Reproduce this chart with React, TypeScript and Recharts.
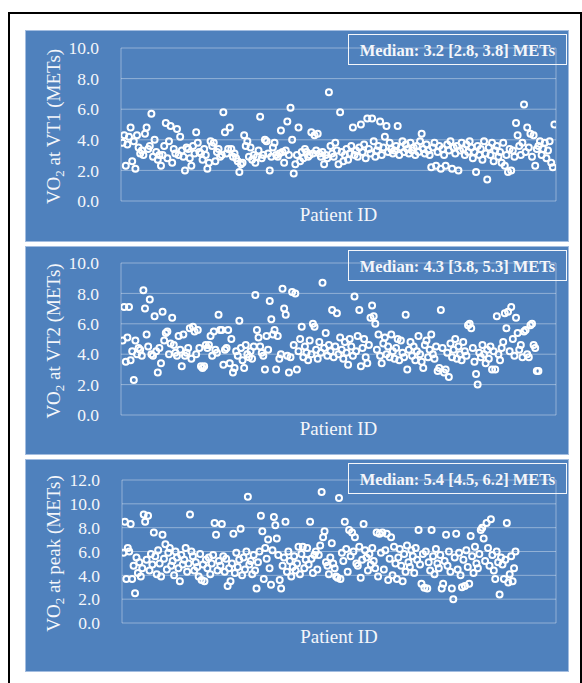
import React from "react";
import { ScatterChart, Scatter, XAxis, YAxis, CartesianGrid } from "recharts";

// VO2 per patient (METs) in patient order
const vt1Values = [
  3.8, 4.3, 2.3, 3.7, 4.2, 4.8, 2.6, 3.9, 2.1, 4.3,
  3.5, 3.1, 3.3, 3.0, 4.4, 4.8, 3.4, 3.6, 5.7, 2.9,
  4.0, 3.2, 2.7, 3.0, 2.3, 3.0, 3.6, 5.1, 2.8, 3.9,
  4.9, 2.5, 3.4, 3.1, 4.7, 3.0, 4.2, 3.3, 2.9, 2.0,
  3.5, 3.4, 2.8, 2.3, 3.6, 3.1, 4.5, 3.8, 3.2, 3.1,
  2.7, 3.4, 3.0, 2.1, 2.5, 3.9, 3.6, 3.8, 2.6, 3.2,
  3.4, 2.9, 3.0, 5.8, 4.5, 3.1, 3.4, 4.8, 3.4, 2.9,
  3.1, 2.8, 2.6, 1.9, 2.4, 2.5, 4.3, 3.6, 3.9, 2.9,
  3.5, 2.7, 3.0, 2.5, 2.9, 3.3, 5.5, 2.8, 3.0, 4.0,
  3.9, 3.1, 2.0, 2.9, 3.5, 3.8, 3.0, 2.9, 3.1, 4.6,
  3.2, 2.5, 3.3, 5.2, 3.0, 6.1, 4.0, 1.8, 2.4, 3.0,
  4.8, 2.6, 3.2, 2.8, 3.4, 3.2, 2.9, 3.0, 4.5, 3.1,
  4.3, 3.3, 4.4, 3.1, 2.9, 3.2, 2.4, 3.0, 2.8, 7.1,
  3.6, 3.1, 2.9, 3.8, 3.3, 2.4, 5.8, 3.2, 2.6, 3.0,
  3.4, 2.7, 3.1, 3.6, 4.8, 3.0, 3.3, 2.9, 3.5, 5.0,
  3.2, 3.7, 2.8, 5.4, 3.4, 3.1, 5.4, 3.9, 2.9, 3.3,
  3.6, 5.2, 3.0, 3.5, 4.2, 4.9, 3.2, 3.8, 3.4, 3.1,
  3.3, 3.6, 4.9, 3.0, 3.5, 3.9, 3.2, 3.7, 3.4, 3.1,
  3.8, 3.3, 3.5, 3.0, 3.6, 3.2, 3.9, 4.4, 3.4, 3.1,
  3.7, 3.3, 3.0, 2.2, 3.5, 3.8, 2.3, 3.2, 3.6, 2.1,
  3.4, 3.0, 2.3, 3.7, 3.3, 3.9, 2.1, 3.5, 3.1, 3.6,
  2.0, 3.3, 3.8, 3.4, 3.0, 3.7, 3.2, 3.9, 3.5, 2.8,
  3.2, 1.9, 3.6, 3.0, 3.4, 2.7, 3.9, 3.1, 1.4, 3.5,
  3.0, 3.8, 2.6, 3.3, 3.6, 2.9, 3.2, 2.5, 3.8, 2.3,
  3.0, 1.9, 3.4, 2.0, 3.3, 2.9, 5.1, 4.3, 3.6, 3.0,
  3.8, 6.3, 3.2, 4.8, 3.5, 4.4, 2.9, 4.3, 2.3, 3.4,
  3.6, 3.9, 3.0, 3.4, 3.8, 2.8, 3.3, 3.9, 2.5, 2.2, 5.0,
];

const vt2Values = [
  4.9, 7.1, 3.5, 5.1, 7.1, 3.6, 4.2, 2.3, 4.9, 4.0,
  4.4, 4.3, 3.9, 8.2, 7.0, 5.3, 4.5, 7.6, 4.0, 3.9,
  6.5, 4.2, 2.8, 4.4, 3.4, 6.8, 4.9, 5.4, 5.5, 4.0,
  4.7, 6.4, 4.6, 4.1, 3.9, 5.2, 4.3, 3.2, 5.3, 3.9,
  4.1, 4.4, 5.7, 3.7, 5.8, 5.5, 4.0, 5.6, 4.4, 3.2,
  3.1, 3.2, 4.6, 4.4, 4.6, 5.2, 3.9, 5.5, 4.3, 4.1,
  6.6, 5.6, 5.6, 3.3, 4.3, 4.4, 5.6, 3.4, 5.0, 2.8,
  3.1, 4.2, 3.9, 6.2, 4.4, 3.6, 3.1, 4.6, 4.0, 3.8,
  4.2, 3.7, 4.5, 7.9, 5.6, 5.1, 4.5, 4.1, 3.9, 3.0,
  5.2, 4.3, 7.5, 6.3, 5.3, 5.6, 3.0, 5.2, 3.7, 4.0,
  8.3, 7.0, 6.6, 3.9, 2.8, 3.8, 8.1, 4.6, 8.0, 3.0,
  4.2, 5.0, 5.8, 3.8, 4.5, 4.1, 3.6, 4.9, 4.0, 6.0,
  5.8, 4.3, 3.7, 4.8, 4.1, 8.7, 4.4, 5.4, 3.9, 4.6,
  4.2, 6.9, 3.8, 4.5, 6.7, 4.0, 5.1, 4.3, 3.7, 4.8,
  4.1, 3.3, 5.0, 4.5, 3.9, 7.8, 4.2, 5.2, 6.9, 3.2,
  4.4, 5.0, 3.8, 3.4, 4.6, 6.4, 7.2, 6.5, 6.0, 4.3,
  5.3, 3.9, 3.4, 4.7, 5.1, 4.0, 4.5, 3.8, 5.3, 4.2,
  3.7, 4.4, 5.0, 3.6, 4.9, 4.1, 3.8, 6.6, 3.0, 4.3,
  4.8, 3.9, 4.5, 3.6, 4.2, 5.2, 4.0, 3.5, 3.1, 4.6,
  4.9, 3.8, 4.3, 5.3, 4.0, 3.7, 4.5, 2.9, 3.1, 6.9,
  4.4, 2.8, 3.0, 4.1, 2.5, 4.7, 3.8, 4.3, 5.0, 3.7,
  4.5, 4.0, 3.6, 4.8, 4.2, 3.9, 5.9, 6.0, 5.7, 4.4,
  3.5, 2.7, 2.0, 4.1, 3.8, 4.6, 4.0, 3.4, 4.3, 3.7,
  4.5, 3.0, 4.2, 3.0, 6.5, 4.0, 3.6, 4.4, 4.8, 6.7,
  5.7, 6.8, 4.2, 7.1, 5.0, 3.9, 6.4, 5.4, 4.3, 4.6,
  3.8, 5.5, 5.6, 4.0, 3.8, 5.9, 6.0, 4.6, 4.4, 2.9, 2.9,
];

const peakValues = [
  5.9, 8.5, 3.7, 6.3, 6.0, 8.3, 3.7, 4.8, 2.5, 5.5,
  4.2, 5.1, 3.9, 4.6, 9.1, 8.5, 5.3, 9.0, 4.4, 5.8,
  4.9, 7.6, 5.6, 4.1, 6.1, 5.0, 3.9, 7.4, 5.4, 6.6,
  4.5, 5.9, 6.3, 4.8, 5.2, 4.0, 6.0, 5.5, 4.6, 3.5,
  5.7, 4.9, 5.3, 6.3, 4.3, 5.0, 9.1, 6.0, 5.6, 4.4,
  5.1, 4.7, 3.9, 5.8, 3.6, 4.9, 3.5, 5.3, 4.6, 5.5,
  4.1, 5.0, 5.7, 8.4, 7.4, 4.4, 5.2, 4.8, 8.3, 5.6,
  4.3, 5.4, 3.1, 4.6, 3.5, 5.0, 7.5, 4.2, 5.9, 4.7,
  5.3, 7.9, 4.0, 5.5, 4.5, 6.0, 10.6, 4.9, 5.2, 4.1,
  5.7, 4.4, 2.9, 5.1, 6.0, 9.0, 7.7, 3.7, 6.3, 5.4,
  7.0, 4.6, 3.2, 6.1, 8.9, 8.2, 7.1, 5.7, 3.6, 2.9,
  4.8, 5.5, 8.5, 4.3, 6.0, 5.2, 3.9, 4.7, 5.6, 4.4,
  5.0, 6.4, 4.1, 5.8, 6.4, 4.6, 5.3, 6.3, 4.9, 8.5,
  5.4, 4.2, 5.7, 6.0, 4.5, 5.7, 6.5, 11.0, 7.2, 7.7,
  5.1, 4.8, 4.1, 5.5, 6.7, 5.0, 4.6, 3.9, 3.8, 10.5,
  3.7, 5.9, 5.2, 8.5, 6.2, 4.3, 7.8, 5.6, 7.6, 6.0,
  7.2, 5.0, 4.8, 6.4, 3.8, 5.3, 8.3, 6.1, 5.5, 4.4,
  5.8, 4.9, 6.3, 5.2, 4.6, 7.6, 3.9, 7.5, 5.9, 7.6,
  4.5, 6.1, 7.5, 3.6, 5.4, 7.2, 4.0, 6.4, 5.0, 3.7,
  5.5, 6.2, 4.8, 3.5, 5.8, 4.3, 6.5, 5.1, 4.7, 6.1,
  5.6, 4.2, 6.3, 5.3, 7.8, 4.9, 3.3, 5.8, 2.95, 6.0,
  2.9, 5.1, 4.4, 7.8, 5.6, 4.1, 6.2, 5.0, 4.6, 5.7,
  2.9, 3.3, 5.2, 7.4, 4.8, 6.0, 4.3, 2.9, 2.0, 5.5,
  7.5, 4.5, 5.9, 4.0, 3.0, 5.3, 3.1, 6.1, 4.7, 3.3,
  7.3, 5.6, 4.2, 6.4, 5.0, 4.6, 5.8, 7.8, 8.0, 7.1,
  5.2, 8.4, 6.3, 4.8, 8.7, 5.7, 4.4, 3.7, 6.0, 5.1,
  2.4, 5.5, 4.9, 3.7, 5.3, 8.4, 3.4, 4.1, 5.6, 3.5, 4.6, 6.0,
];

const patientTicks = [0, 50, 100, 150, 200, 250];
const patientTicksPeak = [0, 50, 100, 150, 200, 250, 300];
const vtTicks = [0, 2, 4, 6, 8, 10];
const peakTicks = [0, 2, 4, 6, 8, 10, 12];

const vt1Median = "Median: 3.2 [2.8, 3.8] METs";
const vt2Median = "Median: 4.3 [3.8, 5.3] METs";
const peakMedian = "Median: 5.4 [4.5, 6.2] METs";

const FONT = "Liberation Serif, Times New Roman, Tinos, DejaVu Serif, serif";
const BLUE = "#4f81bd";
const GRID = "rgba(255,255,255,0.38)";

const OpenCircle = (props: any) => (
  <circle cx={props.cx} cy={props.cy} r={3} fill="none" stroke="#fff" strokeWidth={2} />
);

type PanelProps = {
  top: number;
  height: number;
  values: number[];
  xMax: number;
  xTicks: number[];
  yTicks: number[];
  plotTop: number;
  plotBottom: number;
  plotLeft: number;
  name: string;
  median: string;
};

const Panel = ({ top, height, values, xMax, xTicks, yTicks, plotTop, plotBottom, plotLeft, name, median }: PanelProps) => {
  const data = values.map((y, i) => ({ x: i + 1, y }));
  const width = 544;

  const yLabel = (props: any) => {
    const vb = props.viewBox || {};
    const cx = (vb.x || 0) + 35;
    const cy = (vb.y || 0) + (vb.height || 0) / 2 + 2;
    return (
      <text
        x={cx}
        y={cy}
        transform={`rotate(-90 ${cx} ${cy})`}
        textAnchor="middle"
        fill="#f4f6fa"
        fontSize={19}
        style={{ fontFamily: FONT }}
      >
        <tspan>VO</tspan>
        <tspan dy={4} fontSize={13}>2</tspan>
        <tspan dy={-4}>{" " + name}</tspan>
      </text>
    );
  };

  const xLabel = (props: any) => {
    const vb = props.viewBox || {};
    return (
      <text
        x={(vb.x || 0) + (vb.width || 0) / 2}
        y={(vb.y || 0) + 20}
        textAnchor="middle"
        fill="#f4f6fa"
        fontSize={19}
        style={{ fontFamily: FONT }}
      >
        Patient ID
      </text>
    );
  };

  return (
    <div
      style={{
        position: "absolute",
        left: 25,
        top,
        width,
        height,
        background: BLUE,
        boxShadow: "inset 0 0 0 1px #a3bde0",
        fontFamily: FONT,
      }}
    >
      <ScatterChart
        width={width}
        height={height}
        margin={{ top: plotTop, right: 13, left: 0, bottom: 0 }}
        style={{ fontFamily: FONT }}
      >
        <CartesianGrid stroke={GRID} strokeWidth={1} />
        <XAxis
          type="number"
          dataKey="x"
          domain={[0, xMax]}
          ticks={xTicks}
          tick={false}
          axisLine={false}
          tickLine={false}
          height={height - plotBottom}
          allowDataOverflow
          label={xLabel}
        />
        <YAxis
          type="number"
          dataKey="y"
          domain={[0, yTicks[yTicks.length - 1]]}
          ticks={yTicks}
          interval={0}
          tickFormatter={(v: number) => v.toFixed(1)}
          tick={{ fill: "#f4f6fa", fontSize: 17.5, style: { fontFamily: FONT } }}
          axisLine={false}
          tickLine={false}
          tickSize={0}
          tickMargin={22}
          width={plotLeft}
          allowDataOverflow
          label={yLabel}
        />
        <Scatter data={data} shape={OpenCircle} isAnimationActive={false} />
      </ScatterChart>
      <div
        style={{
          position: "absolute",
          left: 323,
          top: 4,
          width: 219,
          height: 31,
          boxSizing: "border-box",
          border: "1.5px solid #f4f6fa",
          color: "#f4f6fa",
          fontFamily: FONT,
          fontWeight: "bold",
          fontSize: 16.5,
          display: "flex",
          alignItems: "center",
          justifyContent: "center",
          paddingTop: 3,
          whiteSpace: "nowrap",
        }}
      >
        {median}
      </div>
    </div>
  );
};

export default function App() {
  return (
    <div
      style={{
        position: "absolute",
        left: 0,
        top: 0,
        width: 582,
        height: 683,
        background: "#fff",
        overflow: "hidden",
        fontFamily: FONT,
      }}
    >
      <div
        style={{
          position: "absolute",
          left: 8,
          top: 12,
          width: 574,
          height: 720,
          boxSizing: "border-box",
          border: "2px solid #000",
        }}
      />
      <Panel
        top={30}
        height={212}
        values={vt1Values}
        xMax={272}
        xTicks={patientTicks}
        yTicks={vtTicks}
        plotTop={18}
        plotBottom={171}
        plotLeft={96}
        name="at VT1 (METs)"
        median={vt1Median}
      />
      <Panel
        top={246}
        height={209}
        values={vt2Values}
        xMax={272}
        xTicks={patientTicks}
        yTicks={vtTicks}
        plotTop={17}
        plotBottom={169}
        plotLeft={96}
        name="at VT2 (METs)"
        median={vt2Median}
      />
      <Panel
        top={459}
        height={213}
        values={peakValues}
        xMax={300}
        xTicks={patientTicksPeak}
        yTicks={peakTicks}
        plotTop={21}
        plotBottom={164}
        plotLeft={97}
        name="at peak (METs)"
        median={peakMedian}
      />
    </div>
  );
}
